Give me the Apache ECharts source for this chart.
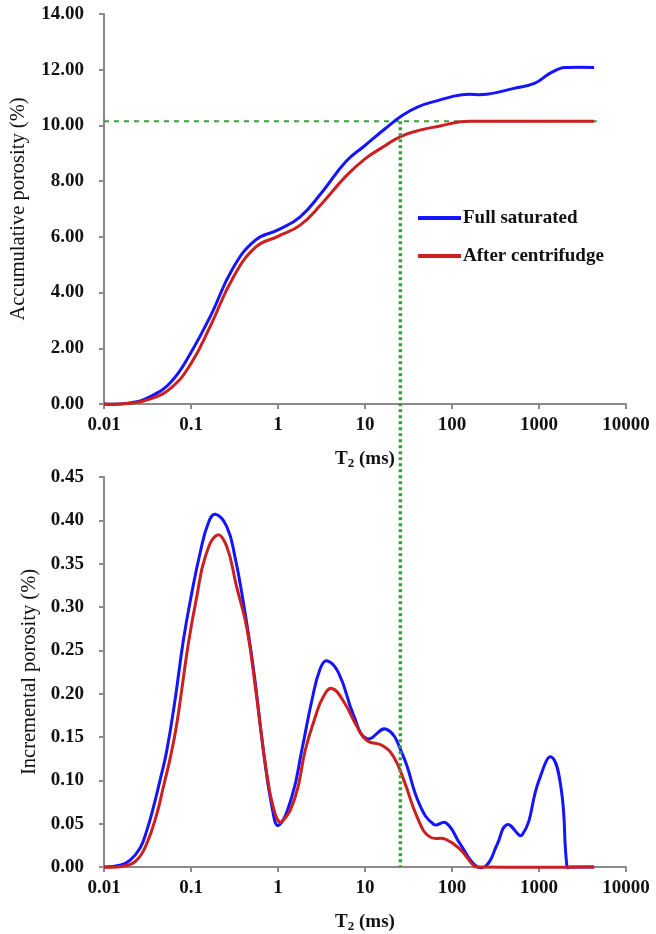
<!DOCTYPE html>
<html>
<head>
<meta charset="utf-8">
<script src="https://cdn.jsdelivr.net/npm/echarts@6/dist/echarts.min.js"></script>
<style>
  html, body { margin: 0; padding: 0; background: #fff; }
  #chart { width: 656px; height: 934px; }
</style>
</head>
<body>
<div id="chart"></div>
<script>
// T2 axis ticks
var xTickLabels = ['0.01', '0.1', '1', '10', '100', '1000', '10000']

// accumulative porosity (%) - full saturated
var cumFullT2 = [0.01, 0.02, 0.035, 0.06, 0.1, 0.17, 0.3, 0.55, 1.0, 1.8, 3.2, 6, 10, 17, 26, 40, 70, 130, 250, 500, 900, 1300, 1750, 2100, 4300]
var cumFull = [0, 0.04, 0.28, 0.82, 1.85, 3.2, 4.85, 5.88, 6.25, 6.72, 7.6, 8.7, 9.28, 9.88, 10.33, 10.66, 10.9, 11.1, 11.12, 11.32, 11.52, 11.85, 12.05, 12.08, 12.08]

// accumulative porosity (%) - after centrifudge
var cumCentT2 = [0.01, 0.02, 0.035, 0.06, 0.1, 0.17, 0.3, 0.55, 1.0, 1.8, 3.2, 6, 10, 17, 26, 44, 73, 125, 200, 4300]
var cumCent = [0, 0.025, 0.19, 0.6, 1.45, 2.85, 4.5, 5.62, 6.02, 6.42, 7.2, 8.17, 8.8, 9.27, 9.61, 9.84, 9.98, 10.13, 10.15, 10.15]

// incremental porosity (%) - full saturated
var incFullT2 = [0.01, 0.0153, 0.02, 0.026, 0.031, 0.037, 0.044, 0.0526, 0.0656, 0.0818, 0.102, 0.127, 0.158, 0.19, 0.257, 0.32, 0.4, 0.52, 0.68, 0.85, 1.01, 1.44, 1.88, 2.46, 3.06, 3.65, 4.97, 7.4, 10.5, 17.5, 27, 42, 62, 85, 125, 190, 250, 330, 430, 640, 1000, 1380, 1800, 2100, 2300, 4300]
var incFull = [0, 0.002, 0.008, 0.022, 0.042, 0.069, 0.1, 0.134, 0.193, 0.262, 0.316, 0.362, 0.397, 0.407, 0.393, 0.358, 0.305, 0.23, 0.134, 0.07, 0.048, 0.081, 0.135, 0.193, 0.229, 0.238, 0.224, 0.175, 0.148, 0.159, 0.13, 0.073, 0.049, 0.051, 0.026, 0.001, 0.002, 0.026, 0.049, 0.037, 0.1, 0.127, 0.09, 0, 0, 0]

// incremental porosity (%) - after centrifudge
var incCentT2 = [0.01, 0.0167, 0.0238, 0.031, 0.0404, 0.048, 0.0575, 0.0686, 0.0933, 0.1166, 0.146, 0.2, 0.257, 0.333, 0.44, 0.57, 0.745, 0.93, 1.1, 1.58, 2.06, 2.68, 3.34, 4.17, 5.68, 8, 10.5, 16, 21.4, 28, 40, 55, 85, 125, 180, 200, 4300]
var incCent = [0, 0.001, 0.008, 0.027, 0.061, 0.092, 0.125, 0.165, 0.258, 0.312, 0.358, 0.383, 0.37, 0.324, 0.275, 0.195, 0.107, 0.061, 0.052, 0.081, 0.135, 0.173, 0.197, 0.206, 0.191, 0.163, 0.146, 0.14, 0.127, 0.1, 0.057, 0.035, 0.032, 0.02, 0.001, 0, 0]

// T2 cutoff and the porosity it gives
var cutoffT2 = 25.5
var cutoffPorosity = 10.15
var cutoffSpan = [0.01, 4600]

function zip(xs, ys) {
  return xs.map(function (x, i) { return [x, ys[i]] })
}

var font = "'Liberation Serif', 'Times New Roman', serif"
var blue = '#1414ff'
var red = '#cc1f1f'
var green = '#3c9e3c'
var axisGray = '#8a8a8a'

function xAxisOf(gridIndex, show) {
  return {
    type: 'log',
    logBase: 10,
    gridIndex: gridIndex,
    min: 0.01,
    max: 10000,
    show: show,
    name: 'T{sub|2} (ms)',
    nameLocation: 'middle',
    nameGap: 44,
    nameTextStyle: {
      fontFamily: font, fontSize: 19, fontWeight: 'bold', color: '#111',
      rich: { sub: { fontFamily: font, fontSize: 13, fontWeight: 'bold', color: '#111', padding: [9, 0, 0, 0] } }
    },
    axisLine: { lineStyle: { color: axisGray, width: 2 } },
    axisTick: { show: true, length: 5, lineStyle: { color: axisGray, width: 2 } },
    minorTick: { show: false },
    splitLine: { show: false },
    axisLabel: {
      margin: 12,
      fontFamily: font, fontSize: 19, fontWeight: 'bold', color: '#111',
      formatter: function (v, i) { return xTickLabels[i] }
    }
  }
}

function yAxisOf(gridIndex, name, max, interval, gap) {
  return {
    type: 'value',
    gridIndex: gridIndex,
    min: 0,
    max: max,
    interval: interval,
    name: name,
    nameLocation: 'middle',
    nameGap: gap,
    nameTextStyle: { fontFamily: font, fontSize: 20.5, color: '#111' },
    axisLine: { show: true, lineStyle: { color: axisGray, width: 2 } },
    axisTick: { show: true, length: 5, lineStyle: { color: axisGray, width: 2 } },
    splitLine: { show: false },
    axisLabel: {
      margin: 20,
      fontFamily: font, fontSize: 19, fontWeight: 'bold', color: '#111',
      formatter: function (v) { return v.toFixed(2) }
    }
  }
}

// smooth curve through the read points, placed with the axis scales
function curve(name, data, color, idx) {
  return {
    name: name,
    type: 'custom',
    coordinateSystem: 'cartesian2d',
    xAxisIndex: idx,
    yAxisIndex: idx,
    data: data,
    encode: { x: 0, y: 1 },
    itemStyle: { color: color },
    z: 3,
    renderItem: function (params, api) {
      if (params.dataIndex !== 0) return null
      var pts = data.map(function (d) { return api.coord(d) })
      return {
        type: 'polyline',
        silent: true,
        shape: { points: pts, smooth: 0.45 },
        style: { stroke: color, lineWidth: 3, fill: null, lineJoin: 'round' }
      }
    }
  }
}

var chart = echarts.init(document.getElementById('chart'), null, { renderer: 'canvas' })

chart.setOption({
  backgroundColor: '#fff',
  animation: false,
  grid: [
    { left: 104, right: 30, top: 14, bottom: 530 },
    { left: 104, right: 30, top: 477, bottom: 67 },
    // overlay for the cutoff line running across both plots
    { left: 104, right: 30, top: 14, bottom: 67 }
  ],
  legend: {
    orient: 'vertical',
    left: 418,
    top: 208,
    padding: 0,
    icon: 'rect',
    itemWidth: 43,
    itemHeight: 4,
    itemGap: 18,
    data: ['Full saturated', 'After centrifudge'],
    textStyle: { fontFamily: font, fontSize: 19, fontWeight: 'bold', color: '#111', lineHeight: 20, padding: [0, 0, 0, -3] }
  },
  xAxis: [xAxisOf(0, true), xAxisOf(1, true), xAxisOf(2, false)],
  yAxis: [
    yAxisOf(0, 'Accumulative porosity (%)', 14, 2, 75),
    yAxisOf(1, 'Incremental porosity (%)', 0.45, 0.05, 64),
    // same scale as the top plot, extended down to the bottom plot's axis
    { type: 'value', gridIndex: 2, min: -16.62, max: 14, show: false }
  ],
  series: [
    {
      name: 'cutoff porosity',
      type: 'line',
      xAxisIndex: 0,
      yAxisIndex: 0,
      data: zip(cutoffSpan, [cutoffPorosity, cutoffPorosity]),
      showSymbol: false,
      symbol: 'none',
      lineStyle: { color: green, width: 2, type: [5, 5] },
      z: 2
    },
    {
      name: 'T2 cutoff',
      type: 'line',
      xAxisIndex: 2,
      yAxisIndex: 2,
      data: [[cutoffT2, cutoffPorosity], [cutoffT2, -16.62]],
      showSymbol: false,
      symbol: 'none',
      clip: false,
      lineStyle: { color: green, width: 3.5, type: [3, 3] },
      z: 4
    },
    curve('Full saturated', zip(cumFullT2, cumFull), blue, 0),
    curve('After centrifudge', zip(cumCentT2, cumCent), red, 0),
    curve('Full saturated', zip(incFullT2, incFull), blue, 1),
    curve('After centrifudge', zip(incCentT2, incCent), red, 1)
  ]
})
</script>
</body>
</html>
